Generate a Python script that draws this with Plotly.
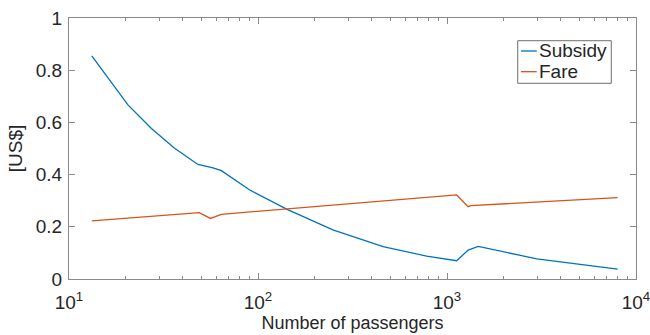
import plotly.graph_objects as go

# Number of passengers (log scale) and cost per passenger
passengers_subsidy = [13.2, 16.1, 20.5, 27.3, 36.2, 48.1, 57.8, 64, 90.4, 142.6, 249, 459, 780,
                      1125, 1294, 1463, 1987, 2985, 8000]
subsidy = [0.855, 0.769, 0.667, 0.577, 0.501, 0.439, 0.426, 0.415, 0.341, 0.267, 0.188, 0.124,
           0.088, 0.070, 0.111, 0.125, 0.105, 0.077, 0.038]

passengers_fare = [13.2, 48.9, 56, 64, 1125, 1294, 1340, 8000]
fare = [0.223, 0.254, 0.232, 0.248, 0.322, 0.277, 0.281, 0.312]

series_names = ["Subsidy", "Fare"]
series_colors = ["#0072BD", "#D95319"]

x_ticks = [10, 100, 1000, 10000]
x_tick_text = ["10<sup>1</sup>", "10<sup>2</sup>", "10<sup>3</sup>", "10<sup>4</sup>"]
y_ticks = [0, 0.2, 0.4, 0.6, 0.8, 1]
y_tick_text = ["0", "0.2", "0.4", "0.6", "0.8", "1"]

FONT = "Liberation Sans, Arial, sans-serif"
AXIS_COLOR = "#8a8a8a"
TEXT_COLOR = "#262626"

fig = go.Figure()
fig.add_trace(go.Scatter(x=passengers_subsidy, y=subsidy, mode="lines", name=series_names[0],
                         line=dict(color=series_colors[0], width=1.3), showlegend=False))
fig.add_trace(go.Scatter(x=passengers_fare, y=fare, mode="lines", name=series_names[1],
                         line=dict(color=series_colors[1], width=1.3), showlegend=False))

axis_common = dict(showline=True, linecolor=AXIS_COLOR, linewidth=1, mirror="ticks",
                   ticks="inside", tickcolor=AXIS_COLOR, ticklen=6, showgrid=False,
                   zeroline=False, automargin=False, ticklabeloverflow="allow",
                   tickfont=dict(family=FONT, size=19, color=TEXT_COLOR))

fig.update_xaxes(type="log", range=[1, 4], tickvals=x_ticks, ticktext=x_tick_text,
                 ticklabelstandoff=6,
                 minor=dict(ticks="inside", ticklen=3, tickcolor=AXIS_COLOR, showgrid=False,
                            tickvals=[m * 10 ** e for e in (1, 2, 3) for m in range(2, 10)]),
                 title=dict(text="Number of passengers", standoff=2,
                            font=dict(family=FONT, size=18, color=TEXT_COLOR)),
                 **axis_common)
fig.update_yaxes(range=[0, 1], tickvals=y_ticks, ticktext=y_tick_text,
                 ticklabelstandoff=2,
                 title=dict(text="[US$]", standoff=8,
                            font=dict(family=FONT, size=19, color=TEXT_COLOR)),
                 **axis_common)

# Legend box in the upper right of the axes
legend_box = dict(x0=0.7914, x1=0.9564, y0=0.7498, y1=0.913)
row_y = [0.8736, 0.7943]
shapes = [dict(type="rect", xref="paper", yref="paper", **legend_box,
               line=dict(color="#6e6e6e", width=1), fillcolor="white", layer="above")]
annotations = []
for name, color, yy in zip(series_names, series_colors, row_y):
    shapes.append(dict(type="line", xref="paper", yref="paper", x0=0.797, x1=0.825,
                       y0=yy, y1=yy, line=dict(color=color, width=1.3), layer="above"))
    annotations.append(dict(x=0.826, y=yy, xref="paper", yref="paper", text=name,
                            showarrow=False, xanchor="left", yanchor="middle",
                            font=dict(family=FONT, size=19, color=TEXT_COLOR)))

fig.update_layout(
    width=650, height=335,
    margin=dict(l=69, r=14, t=18, b=56),
    plot_bgcolor="white", paper_bgcolor="white",
    font=dict(family=FONT, color=TEXT_COLOR),
    shapes=shapes, annotations=annotations,
)

fig.write_html("out.html")
